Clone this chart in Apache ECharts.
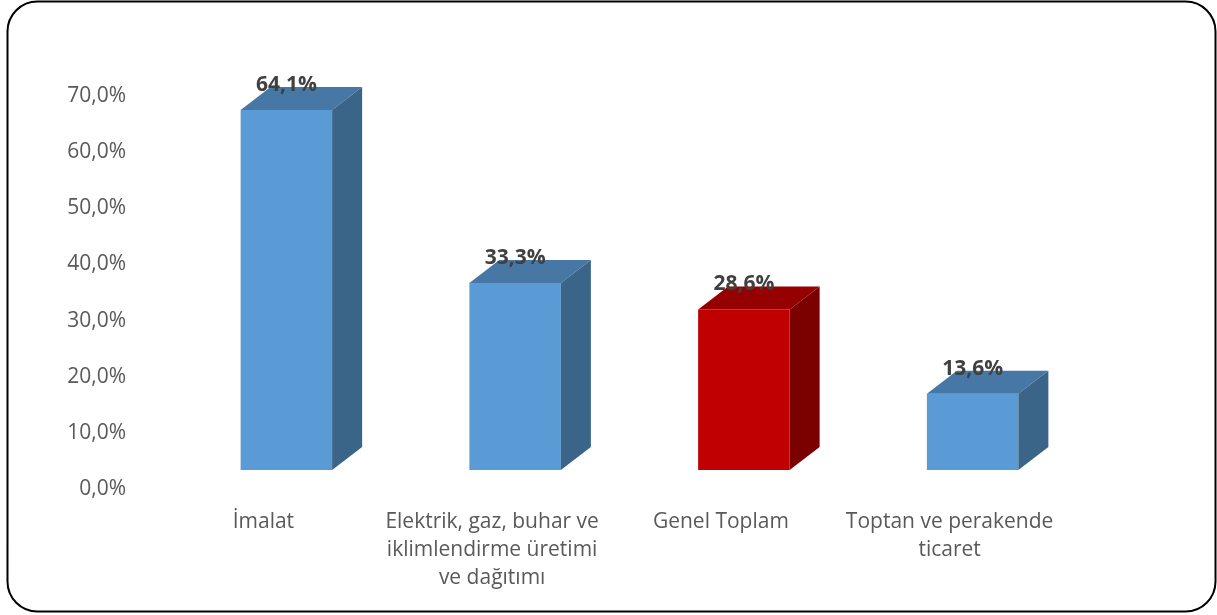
<!DOCTYPE html>
<html>
<head>
<meta charset="utf-8">
<title>Sektörlere göre oran</title>
<script src="https://cdn.jsdelivr.net/npm/echarts@6/dist/echarts.min.js"></script>
<style>
  html, body { margin: 0; padding: 0; background: #fff; }
  #chart { width: 1217px; height: 615px; }
</style>
</head>
<body>
<div id="chart"></div>
<script>
// data
const categories = ['İmalat', 'Elektrik, gaz, buhar ve iklimlendirme üretimi ve dağıtımı', 'Genel Toplam', 'Toptan ve perakende ticaret'];
const categoryLabels = ['İmalat', 'Elektrik, gaz, buhar ve\niklimlendirme üretimi\nve dağıtımı', 'Genel Toplam', 'Toptan ve perakende\nticaret'];
const values = [64.1, 33.3, 28.6, 13.6];
const isTotal = [false, false, true, false];

// face colours: front, top, side
const blueFaces = ['#5b9bd5', '#4677a5', '#3a6488'];
const redFaces = ['#c00000', '#950000', '#7b0000'];

const fmt = v => v.toFixed(1).replace('.', ',') + '%';

// pseudo-3d geometry (pixels)
const FRONT_DX = 23, FRONT_DY = -19, DEPTH_X = 30, DEPTH_Y = -23;

let chart = echarts.init(document.getElementById('chart'));

let option = {
    animation: false,
    graphic: [{
        type: 'rect', shape: {x: 7.5, y: 1.5, width: 1208, height: 610, r: 30},
        style: {fill: 'none', stroke: '#000', lineWidth: 2}, z: 100
    }],
    grid: {left: 149, right: 153, top: 96, bottom: 126},
    xAxis: {
        type: 'category', data: categories,
        axisLine: {show: false}, axisTick: {show: false},
        axisLabel: {
            interval: 0, margin: 19, color: '#595959', fontSize: 21, lineHeight: 28,
            fontFamily: 'Open Sans',
            formatter: (val, i) => categoryLabels[i]
        }
    },
    yAxis: {
        type: 'value', min: 0, max: 70, interval: 10,
        axisLine: {show: false}, axisTick: {show: false}, splitLine: {show: false},
        axisLabel: {color: '#595959', fontSize: 21, margin: 23, fontFamily: 'Open Sans', formatter: fmt}
    },
    series: [{
        type: 'custom',
        data: values.map((v, i) => [i, v]),
        renderItem: (params, api) => {
            const idx = api.value(0), v = api.value(1);
            const top = api.coord([idx, v]);
            const base = api.coord([idx, 0]);
            const w = api.size([1, 0])[0] * 0.4;
            const cx = top[0] + FRONT_DX;
            const L = cx - w / 2, R = cx + w / 2;
            const T = top[1] + FRONT_DY, B = base[1] + FRONT_DY;
            const c = isTotal[params.dataIndex] ? redFaces : blueFaces;
            return {
                type: 'group',
                children: [
                    {type: 'rect', shape: {x: L, y: T, width: w, height: B - T}, style: {fill: c[0]}},
                    {type: 'polygon', shape: {points: [[L, T], [R, T], [R + DEPTH_X, T + DEPTH_Y], [L + DEPTH_X, T + DEPTH_Y]]}, style: {fill: c[1]}},
                    {type: 'polygon', shape: {points: [[R, T], [R + DEPTH_X, T + DEPTH_Y], [R + DEPTH_X, B + DEPTH_Y], [R, B]]}, style: {fill: c[2]}},
                    {type: 'text', x: cx, y: T - 25, z2: 10, style: {
                        text: fmt(v), fill: '#404040', font: 'bold 21px "Open Sans"',
                        align: 'center', verticalAlign: 'middle'
                    }}
                ]
            };
        }
    }]
};

chart.setOption(option);
</script>
</body>
</html>
